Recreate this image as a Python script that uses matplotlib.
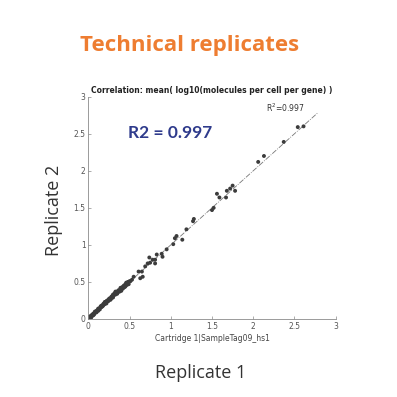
import matplotlib
matplotlib.use("Agg")
import matplotlib.pyplot as plt

OUTPUT_FILE = "out.png"

TITLE = "Technical replicates"
AXES_TITLE = "Correlation: mean( log10(molecules per cell per gene) )"
X_LABEL = "Cartridge 1|SampleTag09_hs1"
R2_TEXT = "R2 = 0.997"
R2_SMALL = "R$^2$=0.997"

TICKS = [0, 0.5, 1, 1.5, 2, 2.5, 3]
TICK_LABELS = ["0", "0.5", "1", "1.5", "2", "2.5", "3"]

# fit line end point (y = x)
FIT_END = 2.78

# replicate 1 (x) / replicate 2 (y)
rep1 = [0.00, 0.01, 0.01, 0.02, 0.02, 0.03, 0.03, 0.03, 0.04, 0.04, 0.05, 0.05,
        0.06, 0.06, 0.07, 0.07, 0.08, 0.08, 0.09, 0.10, 0.10, 0.11, 0.12, 0.12,
        0.13, 0.14, 0.14, 0.15, 0.16, 0.16, 0.17, 0.18, 0.18, 0.19, 0.20, 0.20,
        0.21, 0.22, 0.22, 0.23, 0.24, 0.25, 0.25, 0.26, 0.27, 0.28, 0.28, 0.29,
        0.30, 0.30, 0.31, 0.32, 0.33, 0.33, 0.34, 0.35, 0.36, 0.36, 0.37, 0.38,
        0.39, 0.40, 0.40, 0.41, 0.42, 0.43, 0.44, 0.45, 0.45, 0.46, 0.47, 0.48,
        0.49, 0.50, 0.51, 0.53, 0.55, 0.61, 0.63, 0.65, 0.66, 0.69, 0.72, 0.74,
        0.75, 0.78, 0.81, 0.81, 0.83, 0.89, 0.90, 0.95, 1.03, 1.05, 1.07, 1.14,
        1.19, 1.27, 1.28, 1.50, 1.52, 1.56, 1.59, 1.67, 1.68, 1.72, 1.75, 1.78,
        2.06, 2.13, 2.37, 2.54, 2.61]
rep2 = [0.00, 0.01, 0.03, 0.02, 0.03, 0.02, 0.04, 0.00, 0.03, 0.05, 0.05, 0.06,
        0.05, 0.07, 0.08, 0.06, 0.08, 0.10, 0.09, 0.11, 0.09, 0.12, 0.11, 0.14,
        0.13, 0.15, 0.13, 0.17, 0.16, 0.18, 0.17, 0.20, 0.18, 0.21, 0.20, 0.23,
        0.22, 0.24, 0.21, 0.25, 0.24, 0.27, 0.25, 0.28, 0.26, 0.30, 0.28, 0.31,
        0.29, 0.33, 0.32, 0.35, 0.33, 0.37, 0.36, 0.34, 0.38, 0.36, 0.39, 0.37,
        0.42, 0.40, 0.38, 0.43, 0.41, 0.45, 0.43, 0.47, 0.44, 0.49, 0.46, 0.50,
        0.47, 0.51, 0.51, 0.53, 0.57, 0.64, 0.55, 0.64, 0.57, 0.71, 0.75, 0.83,
        0.76, 0.80, 0.80, 0.75, 0.87, 0.88, 0.84, 0.94, 1.01, 1.09, 1.12, 1.07,
        1.21, 1.32, 1.35, 1.47, 1.50, 1.69, 1.64, 1.64, 1.73, 1.76, 1.80, 1.73,
        2.12, 2.20, 2.39, 2.59, 2.60]

fig = plt.figure(figsize=(3.97, 3.97), dpi=100)
ax = fig.add_axes([0.2224, 0.1965, 0.6232, 0.5599])

ax.plot([0, FIT_END], [0, FIT_END], linestyle="-.", color="#777777", linewidth=0.6, zorder=1)
ax.scatter(rep1, rep2, s=8, color="#3c3c3c", edgecolors="none", zorder=2)

ax.set_xlim(0, 3)
ax.set_ylim(0, 3)
ax.set_xticks(TICKS)
ax.set_xticklabels(TICK_LABELS)
ax.set_yticks(TICKS)
ax.set_yticklabels(TICK_LABELS)

for side in ["top", "right"]:
    ax.spines[side].set_visible(False)
for side in ["left", "bottom"]:
    ax.spines[side].set_color("#8a8a8a")
    ax.spines[side].set_linewidth(0.6)
ax.tick_params(direction="in", length=2, width=0.5, color="#8a8a8a",
               labelsize=5.5, labelcolor="#555555", pad=2)

ax.set_title(AXES_TITLE, fontsize=5.5, fontweight="bold", color="#222222", pad=3)
ax.set_xlabel(X_LABEL, fontsize=5.5, color="#444444", labelpad=2)
ax.text(2.15, 2.85, R2_SMALL, fontsize=5.5, color="#333333", va="center")
ax.text(0.48, 2.51, R2_TEXT, fontsize=12.5, fontweight="bold", family="Lato",
        color="#2f3b8c", va="center")

fig.text(80 / 397, 1 - 45 / 397, TITLE, fontsize=16, fontweight="bold",
         family="Open Sans", color="#ee7d31", va="center", ha="left")
fig.text(54 / 397, 1 - 210 / 397, "Replicate 2", fontsize=13, rotation=90,
         family="Open Sans", color="#333333", va="center", ha="center")
fig.text(201 / 397, 1 - 373 / 397, "Replicate 1", fontsize=13,
         family="Open Sans", color="#333333", va="center", ha="center")

plt.savefig(OUTPUT_FILE, dpi=100)
